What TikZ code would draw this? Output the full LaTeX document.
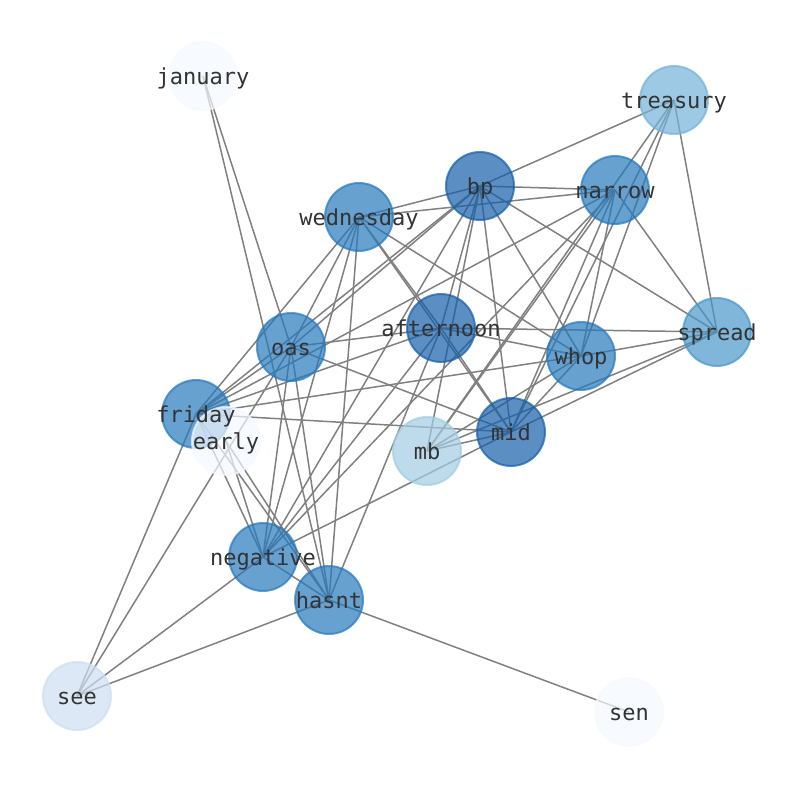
\documentclass[tikz,border=0pt]{standalone}
\usepackage{fontspec}
\setmonofont{DejaVu Sans Mono}
\usetikzlibrary{backgrounds}
\definecolor{cdark}{RGB}{21,95,169}
\definecolor{cmid}{RGB}{38,121,188}
\definecolor{cspread}{RGB}{72,151,202}
\definecolor{ctreas}{RGB}{115,178,216}
\definecolor{cmb}{RGB}{161,204,225}
\definecolor{csee}{RGB}{205,222,241}
\definecolor{cpale}{RGB}{244,249,255}
\definecolor{edgegray}{RGB}{128,128,128}
\definecolor{labelgray}{RGB}{51,51,51}
\begin{document}
\begin{tikzpicture}[x=1bp,y=-1bp,
  word/.style={circle,minimum size=68bp,inner sep=0pt,line width=2bp,
    fill opacity=0.7,draw opacity=0.7,fill=#1,draw=#1},
  tag/.style={font=\ttfamily\fontsize{22bp}{26bp}\selectfont,text=labelgray,
    text height=16.7bp,text depth=5.3bp,inner sep=0pt,yshift=-3bp},
  link/.style={draw=edgegray,line width=1.5bp}]
  \useasboundingbox (0,0) rectangle (794,790);
  % words
  \node[word=cpale] (january) at (203,76) {};
  \node[word=ctreas] (treasury) at (674,100) {};
  \node[word=cdark] (bp) at (480,186) {};
  \node[word=cmid] (narrow) at (615,190) {};
  \node[word=cmid] (wednesday) at (359,217) {};
  \node[word=cdark] (afternoon) at (441,328) {};
  \node[word=cmid] (oas) at (291,347) {};
  \node[word=cspread] (spread) at (717,332) {};
  \node[word=cmid] (whop) at (581,356) {};
  \node[word=cmid] (friday) at (196,414) {};
  \node[word=cpale] (early) at (226,441) {};
  \node[word=cmb] (mb) at (427,451) {};
  \node[word=cdark] (mid) at (511,432) {};
  \node[word=cmid] (negative) at (263,557) {};
  \node[word=cmid] (hasnt) at (329,600) {};
  \node[word=csee] (see) at (77,696) {};
  \node[word=cpale] (sen) at (629,712) {};
  % labels
  \foreach \w in {january,treasury,bp,narrow,wednesday,afternoon,oas,spread,
    whop,friday,early,mb,mid,negative,hasnt,see,sen}
    \node[tag] at (\w) {\w};
  % co-occurrence links
  \begin{scope}[on background layer]
    \foreach \a/\b in {january/oas,january/hasnt,
      treasury/bp,treasury/spread,treasury/mb,treasury/mid,treasury/whop,
      bp/narrow,bp/wednesday,bp/spread,bp/whop,bp/mid,bp/mb,bp/afternoon,
      bp/negative,bp/oas,bp/friday,
      narrow/wednesday,narrow/spread,narrow/whop,narrow/mid,narrow/mb,
      narrow/friday,narrow/negative,
      wednesday/friday,wednesday/oas,wednesday/negative,wednesday/hasnt,
      wednesday/afternoon,wednesday/mid,wednesday/whop,
      afternoon/oas,afternoon/friday,afternoon/negative,afternoon/hasnt,
      afternoon/spread,afternoon/whop,afternoon/mid,
      oas/see,oas/friday,oas/mid,oas/negative,oas/hasnt,
      spread/whop,spread/mid,spread/mb,
      whop/mb,whop/mid,whop/friday,
      friday/see,friday/mid,friday/negative,friday/hasnt,
      early/negative,early/hasnt,
      mb/mid,mid/negative,
      negative/hasnt,negative/see,hasnt/see,hasnt/sen}
      \draw[link] (\a.center) -- (\b.center);
  \end{scope}
\end{tikzpicture}
\end{document}
